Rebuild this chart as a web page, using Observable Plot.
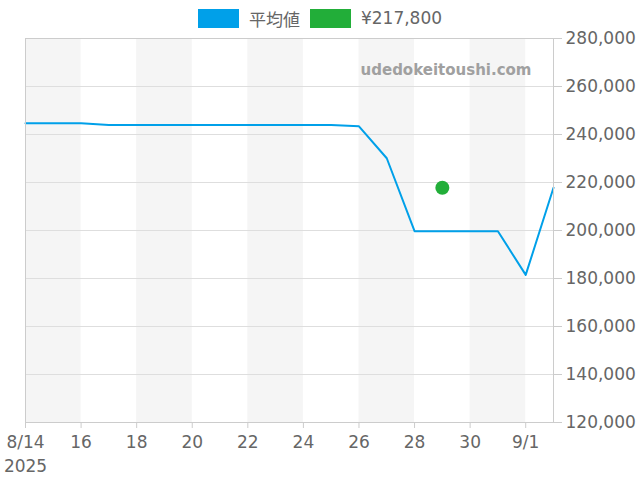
<!DOCTYPE html>
<html><head><meta charset="utf-8">
<script src="https://cdn.jsdelivr.net/npm/d3@7"></script>
<script src="https://cdn.jsdelivr.net/npm/@observablehq/plot@0.6"></script>
<style>
body{margin:0;background:#fff;font-family:"DejaVu Sans",sans-serif;}
#legend{height:30px;box-sizing:border-box;padding-top:9px;display:flex;justify-content:center;align-items:flex-start;font-size:17px;color:#666;line-height:19px;}
#legend .sw{width:41px;height:19px;margin-right:10px;}
#legend .lb{margin-right:10px;}
#legend .lb:last-child{margin-right:0;}
#legend .cjk{font-family:"Noto Sans CJK JP","DejaVu Sans",sans-serif;}
</style></head><body>
<div id="legend"></div>
<div id="chart"></div>
<script>
const dates = ["2025-08-14","2025-08-15","2025-08-16","2025-08-17","2025-08-18","2025-08-19","2025-08-20","2025-08-21","2025-08-22","2025-08-23","2025-08-24","2025-08-25","2025-08-26","2025-08-27","2025-08-28","2025-08-29","2025-08-30","2025-08-31","2025-09-01","2025-09-02"];
const avgPrices = [244700,244700,244700,244000,244000,244000,244000,244000,244000,244000,244000,244000,243400,230100,199700,199700,199700,199700,181500,217800];
const listingDates = ["2025-08-29"];
const listingPrices = [217800];
const bandStarts = ["2025-08-14","2025-08-18","2025-08-22","2025-08-26","2025-08-30"];
const xTickDates = ["2025-08-14","2025-08-16","2025-08-18","2025-08-20","2025-08-22","2025-08-24","2025-08-26","2025-08-28","2025-08-30","2025-09-01"];
const yTicks = [120000,140000,160000,180000,200000,220000,240000,260000,280000];
const xDomain = ["2025-08-14","2025-09-02"];
const yDomain = [120000,280000];
const seriesNames = ["平均値","¥217,800"];
const colors = ["#00a0e9","#22ae39"];
const watermark = "udedokeitoushi.com";

const parse = s => new Date(s + "T00:00:00Z");
const DAY = 864e5;
const lineData = dates.map((d,i)=>({date: parse(d), price: avgPrices[i]}));
const dotData = listingDates.map((d,i)=>({date: parse(d), price: listingPrices[i]}));
const bands = bandStarts.map(d=>({x1: parse(d), x2: new Date(+parse(d) + 2*DAY)}));

const legend = document.getElementById("legend");
seriesNames.forEach((n,i)=>{
  const sw = document.createElement("span"); sw.className="sw"; sw.style.background=colors[i];
  const lb = document.createElement("span"); lb.className = "lb" + (i===0 ? " cjk" : ""); lb.textContent = n;
  legend.append(sw, lb);
});

const fmtX = d => {
  const m = d.getUTCMonth()+1, day = d.getUTCDate();
  if (+d === +parse(xTickDates[0])) return `${m}/${day}\n${d.getUTCFullYear()}`;
  if (day === 1) return `${m}/${day}`;
  return `${day}`;
};

const chart = Plot.plot({
  width: 640, height: 450,
  marginTop: 8, marginBottom: 58, marginLeft: 25, marginRight: 87,
  style: {fontFamily: "DejaVu Sans, sans-serif", fontSize: "17px", color: "#666", background: "#fff", overflow: "visible"},
  x: {type: "utc", domain: xDomain.map(parse)},
  y: {domain: yDomain},
  marks: [
    Plot.rect(bands, {x1: "x1", x2: "x2", fill: "#f5f5f5"}),
    Plot.gridY(yTicks, {stroke: "#dedede", strokeOpacity: 1}),
    Plot.line(lineData, {x: "date", y: "price", stroke: colors[0], strokeWidth: 2}),
    Plot.dot(dotData, {x: "date", y: "price", r: 7, fill: colors[1], stroke: "none"}),
    Plot.text([watermark], {frameAnchor: "top-right", dx: -22, dy: 26, fontWeight: "bold", fontSize: 15, fill: "#a0a0a0"}),
    Plot.frame({stroke: "#cccccc"}),
    Plot.axisX({ticks: xTickDates.map(parse), tickFormat: fmtX, tickSize: 6, tickPadding: 3, stroke: "#cccccc", fill: "#666", lineHeight: 1.4, label: null}),
    Plot.axisY({anchor: "right", ticks: yTicks, tickFormat: d3.format(","), tickSize: 8, tickPadding: 4, stroke: "#cccccc", fill: "#666", label: null})
  ]
});
document.getElementById("chart").append(chart);
</script>
</body></html>
